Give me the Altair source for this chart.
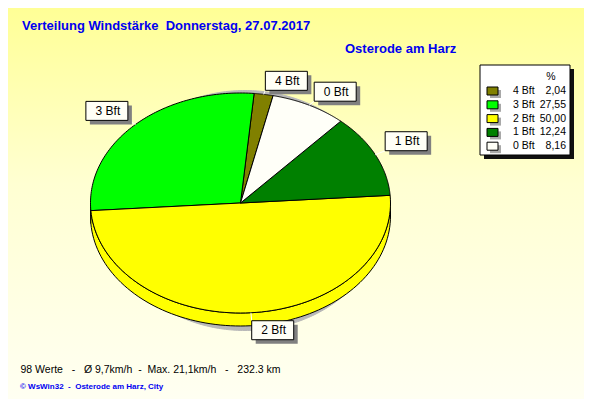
import math
import altair as alt
import pandas as pd

# ---------------- data ----------------
labels = ["4 Bft", "3 Bft", "2 Bft", "1 Bft", "0 Bft"]
values = [2.04, 27.55, 50.00, 12.24, 8.16]
pie_rank = [2, 3, 4, 0, 1]          # counter-clockwise drawing order from the start angle
slice_colors = ["#808000", "#00FF00", "#FFFF00", "#008000", "#FFFFF8"]
legend_colors = ["#808000", "#00FF00", "#FFFF00", "#008000", "#FFFFFF"]

title_text = "Verteilung Windstärke\u00a0 Donnerstag, 27.07.2017"
station_text = "Osterode am Harz"
stats_text = "98 Werte\u00a0\u00a0 -\u00a0\u00a0 Ø 9,7km/h\u00a0 -\u00a0 Max. 21,1km/h\u00a0\u00a0 -\u00a0\u00a0 232.3 km"
credit_text = "© WsWin32\u00a0 -\u00a0 Osterode am Harz, City"
legend_header = "%"

# ---------------- layout ----------------
W, H = 576, 391
CX, CY, A, B, TH = 240.5, 203.0, 150.0, 110.0, 13.0
T0 = 4 * math.pi / 180
N = 90
SX, SY, SA, SB = 245.0, 210.5, 140.0, 120.0
FONT = "Liberation Sans"
BLUE = "#0000F0"

xs = alt.Scale(domain=[8, 8 + W], nice=False, zero=False)
ys = alt.Scale(domain=[8, 8 + H], nice=False, zero=False, reverse=True)


def X(f):
    return alt.X(f, type="quantitative", scale=xs, axis=None)


def Y(f):
    return alt.Y(f, type="quantitative", scale=ys, axis=None)


def X2(f):
    return alt.X2(f)


def Y2(f):
    return alt.Y2(f)


def PX(v):
    return alt.value(v - 8)


slices = pd.DataFrame({"label": labels, "value": values, "rank": pie_rank})
slice_scale = alt.Scale(domain=labels, range=slice_colors)
legend_scale = alt.Scale(domain=labels, range=legend_colors)
one = alt.Data(values=[{"a": 0}])

# background gradient
bg = alt.Chart(one).mark_rect(
    fill=alt.LinearGradient(
        gradient="linear",
        stops=[alt.GradientStop(color="#FFFF96", offset=0),
               alt.GradientStop(color="#FFFFD2", offset=0.45),
               alt.GradientStop(color="#FFFFF2", offset=1)],
        x1=0, x2=0, y1=0, y2=1),
    strokeWidth=0,
).encode(x=alt.value(0), x2=alt.value(W), y=alt.value(0), y2=alt.value(H))

# shadow ellipse
shadow = alt.Chart(alt.sequence(0, 4 * N + 1, as_="k")).transform_calculate(
    t=f"2*PI*datum.k/{4 * N}"
).transform_calculate(
    px=f"{SX} + {SA}*cos(datum.t)", py=f"{SY} - {SB}*sin(datum.t)"
).mark_line(stroke="#B8B8B8", strokeWidth=1).encode(
    x=X("px"), y=Y("py"), order=alt.Order("k:Q"), fill=alt.value("#B8B8B8")
)

base = alt.Chart(slices).transform_joinaggregate(
    total="sum(value)"
).transform_window(
    cum="sum(value)", sort=[alt.SortField("rank")]
).transform_calculate(
    ts=f"{T0} + 2*PI*(datum.cum - datum.value)/datum.total",
    te=f"{T0} + 2*PI*datum.cum/datum.total",
)

# side wall (front half only)
M = 2 * N + 2
wall = base.transform_calculate(
    ws="max(datum.ts, PI)", we="min(datum.te, 2*PI)"
).transform_filter("datum.ws < datum.we").transform_calculate(
    k=f"sequence(0, {M + 1})"
).transform_flatten(["k"]).transform_calculate(
    j=f"datum.k <= {N} ? datum.k : (datum.k <= {2 * N + 1} ? {2 * N + 1} - datum.k : 0)",
    off=f"(datum.k > {N} && datum.k <= {2 * N + 1}) ? {TH} : 0",
).transform_calculate(
    t=f"datum.ws + (datum.we - datum.ws)*datum.j/{N}"
).transform_calculate(
    px=f"{CX} + {A}*cos(datum.t)", py=f"{CY} - {B}*sin(datum.t) + datum.off"
).mark_line(stroke="black", strokeWidth=1, strokeJoin="round").encode(
    x=X("px"), y=Y("py"), order=alt.Order("k:Q"), detail="label:N",
    fill=alt.Fill("label:N", scale=slice_scale, legend=None),
)

# top faces
top = base.transform_calculate(
    k=f"sequence(-1, {N + 2})"
).transform_flatten(["k"]).transform_calculate(
    t=f"datum.ts + (datum.te - datum.ts)*clamp(datum.k, 0, {N})/{N}",
    edge=f"datum.k >= 0 && datum.k <= {N}",
).transform_calculate(
    px=f"datum.edge ? {CX} + {A}*cos(datum.t) : {CX}",
    py=f"datum.edge ? {CY} - {B}*sin(datum.t) : {CY}",
).mark_line(stroke="black", strokeWidth=1, strokeJoin="round").encode(
    x=X("px"), y=Y("py"), order=alt.Order("k:Q"), detail="label:N",
    fill=alt.Fill("label:N", scale=slice_scale, legend=None),
)

# slice labels
lab = base.transform_calculate(
    tm="(datum.ts + datum.te)/2"
).transform_calculate(
    c="cos(datum.tm)", s="sin(datum.tm)"
).transform_calculate(
    px=f"{CX} + {A}*datum.c", pyt=f"{CY} - {B}*datum.s"
).transform_calculate(
    py=f"datum.pyt + (datum.s < 0 ? {TH} : 0)", sg="datum.c >= 0 ? 1 : -1"
).transform_calculate(
    ex="datum.px + 11*datum.c"
).transform_calculate(
    bx="datum.ex + datum.sg*21",
    by="datum.s >= 0 ? datum.py - 13.5 : datum.py + 4.5",
).transform_calculate(
    x1="datum.bx - 21", x2="datum.bx + 21",
    y1="datum.by - 9.5", y2="datum.by + 9.5",
    sx1="datum.bx - 17", sx2="datum.bx + 25",
    sy1="datum.by - 5.5", sy2="datum.by + 13.5",
    ey="datum.s >= 0 ? datum.by + 9.5 : datum.by - 9.5",
    tx="datum.bx + 1",
)

leaders = lab.mark_rule(color="white", strokeWidth=1).encode(
    x=X("px"), y=Y("pyt"), x2=X2("ex"), y2=Y2("ey"))
lab_shadow = lab.mark_rect(fill="#808080", strokeWidth=0).encode(
    x=X("sx1"), x2=X2("sx2"), y=Y("sy1"), y2=Y2("sy2"))
lab_box = lab.mark_rect(fill="#FFFFF6", stroke="black", strokeWidth=1).encode(
    x=X("x1"), x2=X2("x2"), y=Y("y1"), y2=Y2("y2"))
lab_text = lab.mark_text(font=FONT, fontSize=12, color="black", align="center",
                         baseline="middle").encode(x=X("tx"), y=Y("by"), text="label:N")

# legend
legend_df = pd.DataFrame({"label": labels, "value": values, "i": list(range(len(labels)))})
leg = alt.Chart(legend_df).transform_calculate(
    yi="91 + 13.8*datum.i",
    vtxt="replace(format(datum.value, '.2f'), '.', ',')",
).transform_calculate(
    q1="datum.yi - 4", q2="datum.yi + 4", r1="datum.yi - 1", r2="datum.yi + 7",
)
leg_shadow_box = alt.Chart(one).mark_rect(fill="#101010", strokeWidth=0).encode(
    x=PX(484), x2=PX(574), y=alt.value(69 - 8), y2=alt.value(159 - 8))
leg_box = alt.Chart(one).mark_rect(fill="white", stroke="black", strokeWidth=1).encode(
    x=PX(480), x2=PX(570), y=alt.value(65 - 8), y2=alt.value(155 - 8))
leg_sq_shadow = leg.mark_rect(fill="#A8A8A8", strokeWidth=0).encode(
    x=PX(490), x2=PX(501), y=Y("r1"), y2=Y2("r2"))
leg_sq = leg.mark_rect(stroke="black", strokeWidth=1).encode(
    x=PX(487), x2=PX(498), y=Y("q1"), y2=Y2("q2"),
    fill=alt.Fill("label:N", scale=legend_scale, legend=None))
leg_lab = leg.mark_text(font=FONT, fontSize=10.5, align="left", baseline="middle",
                        color="black").encode(x=PX(513), y=Y("yi"), text="label:N")
leg_val = leg.mark_text(font=FONT, fontSize=10.5, align="right", baseline="middle",
                        color="black").encode(x=PX(566), y=Y("yi"), text="vtxt:N")
leg_head = alt.Chart(one).mark_text(font=FONT, fontSize=10.5, align="center", baseline="middle",
                                    color="black").encode(
    x=PX(551), y=alt.value(77 - 8), text=alt.value(legend_header))

# texts
t_title = alt.Chart(one).mark_text(font=FONT, fontSize=13, fontWeight="bold", color=BLUE,
                                   align="left", baseline="alphabetic").encode(
    x=PX(22), y=alt.value(30 - 8), text=alt.value(title_text))
t_station = alt.Chart(one).mark_text(font=FONT, fontSize=13, fontWeight="bold", color=BLUE,
                                     align="left", baseline="alphabetic").encode(
    x=PX(345), y=alt.value(53 - 8), text=alt.value(station_text))
t_stats = alt.Chart(one).mark_text(font=FONT, fontSize=10.5, color="black",
                                   align="left", baseline="alphabetic").encode(
    x=PX(20.5), y=alt.value(373 - 8), text=alt.value(stats_text))
t_credit = alt.Chart(one).mark_text(font=FONT, fontSize=8, fontWeight="bold", color=BLUE,
                                    align="left", baseline="alphabetic").encode(
    x=PX(20), y=alt.value(389 - 8), text=alt.value(credit_text))

chart = alt.layer(
    bg, shadow, wall, top, leaders, lab_shadow, lab_box, lab_text,
    leg_shadow_box, leg_box, leg_sq_shadow, leg_sq, leg_lab, leg_val, leg_head,
    t_title, t_station, t_stats, t_credit,
).properties(
    width=W, height=H, padding=0, autosize=alt.AutoSizeParams(type="none"),
    background="#FFFFF2",
).configure_view(stroke=None)

chart.save("out.html", embed_options={"renderer": "svg", "actions": False})
